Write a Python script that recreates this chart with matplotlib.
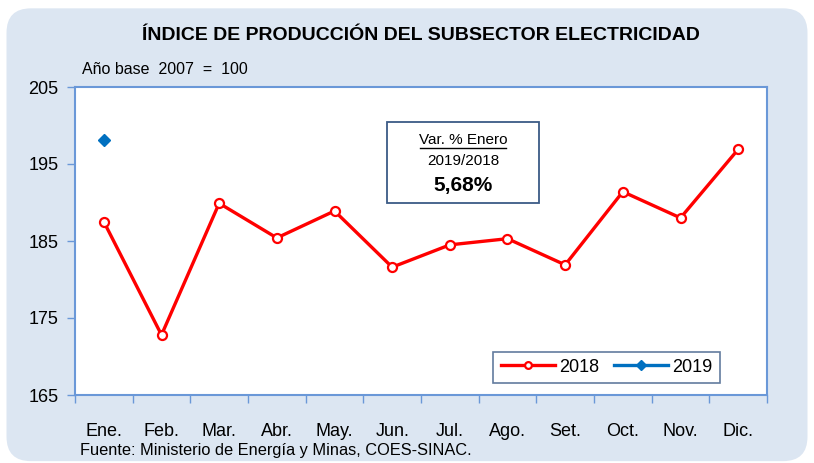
import numpy as np
import matplotlib.pyplot as plt
from matplotlib.patches import FancyBboxPatch, Rectangle
from matplotlib.lines import Line2D

# Data
months = ['Ene.', 'Feb.', 'Mar.', 'Abr.', 'May.', 'Jun.', 'Jul.', 'Ago.', 'Set.', 'Oct.', 'Nov.', 'Dic.']
vals_2018 = [187.5, 172.8, 189.9, 185.4, 188.9, 181.6, 184.5, 185.3, 181.9, 191.4, 188.0, 196.9]
vals_2019 = [198.1]
yticks = [165, 175, 185, 195, 205]

bg = '#DCE6F2'
spine_col = '#6A98D8'
font = 'Liberation Sans'

fig = plt.figure(figsize=(8.14, 4.63), dpi=100)
fig.patch.set_facecolor('white')

# Rounded background panel
panel = FancyBboxPatch((0.008, 0.004), 0.984, 0.978, boxstyle='round,pad=0,rounding_size=0.03',
                       transform=fig.transFigure, facecolor=bg, edgecolor='none',
                       mutation_aspect=814 / 463, zorder=-1)
fig.patches.append(panel)

ax = fig.add_axes([75 / 814, 1 - 395 / 463, (767 - 75) / 814, (395 - 87) / 463])
ax.set_facecolor('white')

x = np.arange(len(months))
ax.plot(x, vals_2018, color='#FF0000', lw=2.4, marker='o', ms=6.5,
        mfc='white', mec='#FF0000', mew=1.6, zorder=3)
ax.plot(x[:len(vals_2019)], vals_2019, color='#0070C0', lw=2.4, marker='D', ms=6.5,
        mfc='#0070C0', mec='#0070C0', zorder=3)

ax.set_xlim(-0.5, 11.5)
ax.set_ylim(165, 205)
ax.set_yticks(yticks)
ax.set_yticklabels([str(t) for t in yticks], fontsize=13, family=font)
ax.set_xticks(x)
ax.set_xticklabels(months, fontsize=13, family=font)
ax.set_xticks(np.arange(-0.5, 12, 1), minor=True)
ax.tick_params(axis='x', which='major', length=0, pad=20)
ax.tick_params(axis='x', which='minor', length=6, color=spine_col, width=1, direction='out')
ax.tick_params(axis='y', length=6, color=spine_col, width=1, direction='out', pad=6)
for s in ax.spines.values():
    s.set_color(spine_col)
    s.set_linewidth(1.5)

# Title and notes
fig.text(421 / 814, 1 - 36 / 463, 'ÍNDICE DE PRODUCCIÓN DEL SUBSECTOR ELECTRICIDAD',
         ha='center', va='center', fontsize=14, fontweight='bold', family=font)
fig.text(82 / 814, 1 - 70 / 463, 'Año base  2007  =  100', ha='left', va='center', fontsize=11.5,
         family=font)
fig.text(80 / 814, 1 - 451 / 463, 'Fuente: Ministerio de Energía y Minas, COES-SINAC.',
         ha='left', va='center', fontsize=11.8, family=font)

# Variation box
fig.patches.append(Rectangle((387 / 814, 1 - 203 / 463), 152 / 814, 81 / 463,
                             transform=fig.transFigure, facecolor='white',
                             edgecolor='#3B5B86', lw=1.3, zorder=5))
cx = 463 / 814
fig.text(cx, 1 - 140 / 463, 'Var. % Enero', ha='center', va='center', fontsize=11,
         family=font, zorder=6)
fig.add_artist(Line2D([420 / 814, 506 / 814], [1 - 148 / 463, 1 - 148 / 463],
                      color='black', lw=1, transform=fig.transFigure, zorder=6))
fig.text(cx, 1 - 161 / 463, '2019/2018', ha='center', va='center', fontsize=11,
         family=font, zorder=6)
fig.text(cx, 1 - 186 / 463, '5,68%', ha='center', va='center', fontsize=15,
         fontweight='bold', family=font, zorder=6)

# Legend
leg = ax.legend(['2018', '2019'], loc='lower right', bbox_to_anchor=(0.932, 0.039), ncol=2,
                frameon=True, fancybox=False, prop={'family': font, 'size': 13},
                handlelength=3.0, columnspacing=0.8, handletextpad=0.25, borderpad=0.4,
                borderaxespad=0, markerscale=0.75)
leg.get_frame().set_edgecolor('#3B5B86')
leg.get_frame().set_linewidth(1.2)

fig.savefig('out.png', dpi=100, facecolor=fig.get_facecolor())
